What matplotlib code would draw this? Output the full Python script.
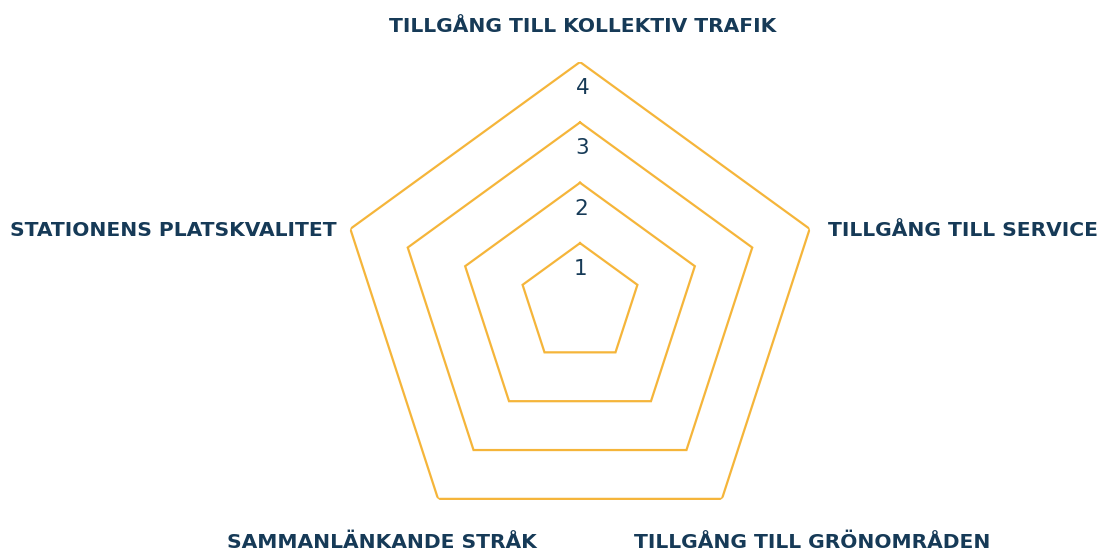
import numpy as np
import matplotlib
matplotlib.use("Agg")
import matplotlib.pyplot as plt

categories = ["TILLGÅNG TILL KOLLEKTIV TRAFIK", "TILLGÅNG TILL SERVICE",
              "TILLGÅNG TILL GRÖNOMRÅDEN", "SAMMANLÄNKANDE STRÅK",
              "STATIONENS PLATSKVALITET"]
levels = [1, 2, 3, 4]
level_labels = ["1", "2", "3", "4"]

GOLD = "#F5B53A"
NAVY = "#163A57"
FONT = "DejaVu Sans"

W, H = 1101, 554
fig = plt.figure(figsize=(W / 100, H / 100), dpi=100)
cx, cy, R = 580, 303.5, 241.5
ax = fig.add_axes([(cx - R) / W, (H - cy - R) / H, 2 * R / W, 2 * R / H], polar=True)
ax.set_theta_offset(np.pi / 2)
ax.set_theta_direction(-1)
ax.set_ylim(0, 4)
ax.axis("off")

n = len(categories)
angles = np.arange(n) * 2 * np.pi / n
closed = np.append(angles, angles[0])
for lv in levels:
    ax.plot(closed, [lv] * (n + 1), color=GOLD, lw=1.6, solid_joinstyle="miter")

for lv, lab in zip(levels, level_labels):
    ax.text(0.012, lv - 0.43, lab, ha="center", va="center", color=NAVY,
            fontsize=15.5, fontfamily=FONT)

# category labels placed in pixel positions
pos = [(583, 27, "center"), (828, 230, "left"), (812, 543, "center"),
       (382, 543, "center"), (337, 230, "right")]
for cat, (x, y, ha) in zip(categories, pos):
    fig.text(x / W, 1 - y / H, cat, ha=ha, va="center", color=NAVY,
             fontsize=14.6, fontfamily=FONT, fontweight="bold")

fig.savefig("out.png", dpi=100)
